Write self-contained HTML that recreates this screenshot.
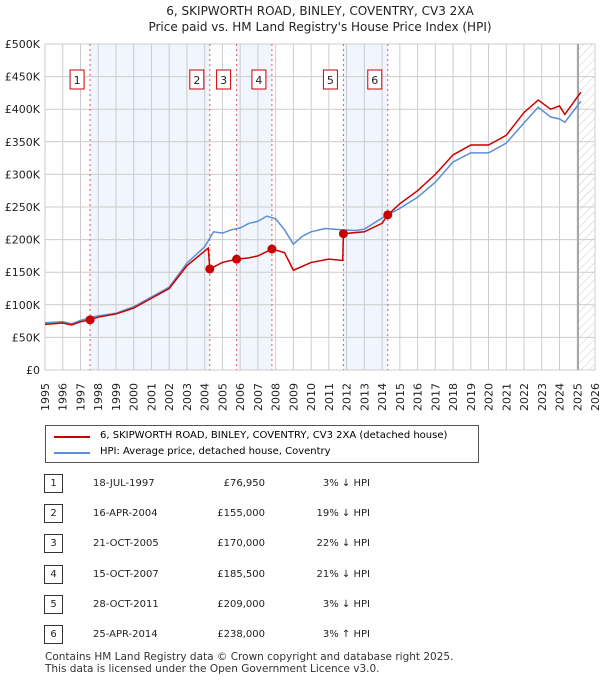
<!DOCTYPE html>
<html><head><meta charset="utf-8"><style>
body{margin:0;background:#fff;font-family:"Liberation Sans","DejaVu Sans",sans-serif;}
#wrap{position:relative;width:600px;height:680px;}
svg text{font-family:"DejaVu Sans","Liberation Sans",sans-serif;}
.row{position:absolute;left:0;width:600px;font-size:10px;color:#222;font-family:"DejaVu Sans",sans-serif;}
.row span{position:absolute;top:0;white-space:nowrap;}
.num{left:44px;width:17px;height:17px;border:1px solid #333;text-align:center;line-height:17px;top:-4px!important;}
</style></head><body><div id="wrap">
<svg id="chart" width="600" height="420" style="position:absolute;left:0;top:0">
<text x="320" y="15" text-anchor="middle" font-size="12" fill="#222">6, SKIPWORTH ROAD, BINLEY, COVENTRY, CV3 2XA</text>
<text x="320" y="31" text-anchor="middle" font-size="12" fill="#222">Price paid vs. HM Land Registry's House Price Index (HPI)</text>
<defs><pattern id="hatch" width="6" height="6" patternUnits="userSpaceOnUse" patternTransform="rotate(45)"><line x1="0" y1="0" x2="0" y2="6" stroke="#ccc" stroke-width="1"/></pattern></defs>
<g id="g"></g>
</svg>
<div style="position:absolute;left:45px;top:425px;width:432px;height:36px;border:1px solid #555;">
<div style="position:absolute;left:8px;top:10px;width:36px;height:2px;background:#c00"></div>
<div style="position:absolute;left:54px;top:4px;font-size:10px;white-space:nowrap;font-family:'DejaVu Sans',sans-serif">6, SKIPWORTH ROAD, BINLEY, COVENTRY, CV3 2XA (detached house)</div>
<div style="position:absolute;left:8px;top:26px;width:36px;height:2px;background:#5b8fd4"></div>
<div style="position:absolute;left:54px;top:20px;font-size:10px;white-space:nowrap;font-family:'DejaVu Sans',sans-serif">HPI: Average price, detached house, Coventry</div>
</div>
<div id="table"></div>
<div style="position:absolute;left:45px;top:651px;font-size:10.5px;line-height:12px;color:#333;font-family:'DejaVu Sans',sans-serif">Contains HM Land Registry data © Crown copyright and database right 2025.<br>This data is licensed under the Open Government Licence v3.0.</div>
</div>
<script>
const hpiYears=[1995,1996,1996.5,1997,1997.5,1998,1999,2000,2001,2002,2003,2004,2004.5,2005,2005.5,2006,2006.5,2007,2007.5,2008,2008.5,2009,2009.5,2010,2010.8,2011.8,2012.5,2013,2014,2015,2016,2017,2018,2019,2020,2021,2022,2022.8,2023.5,2024,2024.3,2025.2];
const hpiValues=[72.5,74,71,76,80,83,87,97,112,127,164,189,212,210,215,218,225,228,236,232,215,193,205,212,217,215,214,216,233,248,265,288,319,333,333,348,379,403,388,385,380,412];
const ppYears=[1995,1996,1996.5,1997,1997.54,1998,1999,2000,2001,2002,2003,2004.2,2004.29,2005,2005.8,2006.5,2007,2007.79,2008.5,2009,2010,2011,2011.78,2011.82,2013,2014,2014.32,2015,2016,2017,2018,2019,2020,2021,2022,2022.8,2023.5,2024,2024.3,2025.2];
const ppValues=[70,72,69,74,76.95,81,86,95,110,125,160,187,155,165,170,172,175,185.5,180,153,165,170,168,209,212,225,238,255,275,300,330,345,345,360,395,414,400,405,392,426];
const saleYears=[1997.54,2004.29,2005.8,2007.79,2011.82,2014.32];
const saleValues=[76.95,155,170,185.5,209,238];
const saleLabels=["1","2","3","4","5","6"];
const saleDates=["18-JUL-1997","16-APR-2004","21-OCT-2005","15-OCT-2007","28-OCT-2011","25-APR-2014"];
const salePrices=["£76,950","£155,000","£170,000","£185,500","£209,000","£238,000"];
const saleHpi=["3% ↓ HPI","19% ↓ HPI","22% ↓ HPI","21% ↓ HPI","3% ↓ HPI","3% ↑ HPI"];
const yTicks=[0,50,100,150,200,250,300,350,400,450,500];
const yTickLabels=["£0","£50K","£100K","£150K","£200K","£250K","£300K","£350K","£400K","£450K","£500K"];
const xTicks=[1995,1996,1997,1998,1999,2000,2001,2002,2003,2004,2005,2006,2007,2008,2009,2010,2011,2012,2013,2014,2015,2016,2017,2018,2019,2020,2021,2022,2023,2024,2025,2026];
const L=45,R=595,T=44,B=370;
const x=v=>L+(v-1995)/(2026-1995)*(R-L);
const y=v=>B-v/500*(B-T);
const g=document.getElementById('g');
const NS='http://www.w3.org/2000/svg';
function el(t,a){const e=document.createElementNS(NS,t);for(const k in a)e.setAttribute(k,a[k]);g.appendChild(e);return e;}
[[0,1],[2,3],[4,5]].forEach(p=>{const r=el('rect',{x:x(saleYears[p[0]]),y:T,width:x(saleYears[p[1]])-x(saleYears[p[0]]),height:B-T,fill:'#eef3fc',opacity:0.8});

});
const h=el('rect',{x:x(2025.05),y:T,width:R-x(2025.05),height:B-T,fill:'url(#hatch)'});


xTicks.forEach((t,i)=>{const l=el('line',{x1:x(t),x2:x(t),y1:T,y2:B,stroke:'#ccc'});


const tx=el('text',{x:x(t)+4,y:383,'text-anchor':'end','font-size':11,fill:'#222',transform:'rotate(-90 '+(x(t)+4)+' 383)'});tx.textContent=t;

});
yTicks.forEach((t,i)=>{const l=el('line',{x1:L,x2:R,y1:y(t),y2:y(t),stroke:'#ccc'});


const tx=el('text',{x:40,y:y(t)+4,'text-anchor':'end','font-size':11,fill:'#222'});tx.textContent=yTickLabels[i];

});
const fl=el('line',{x1:x(2025.05),x2:x(2025.05),y1:T,y2:B,stroke:'#999','stroke-width':1.5});


saleYears.forEach((s,i)=>{const l=el('line',{x1:x(s),x2:x(s),y1:T,y2:B,stroke:'#e05a5a','stroke-dasharray':'2,3'});


const r=el('rect',{x:x(s)-20,y:70,width:14,height:19,fill:'#fff',stroke:'#c00'});


const t=el('text',{x:x(s)-13,y:84,'text-anchor':'middle','font-size':11,fill:'#222'});t.textContent=saleLabels[i];

});
const hp=el('polyline',{points:hpiYears.map((v,i)=>x(v)+','+y(hpiValues[i])).join(' '),fill:'none',stroke:'#5b8fd4','stroke-width':1.5});


const pp=el('polyline',{points:ppYears.map((v,i)=>x(v)+','+y(ppValues[i])).join(' '),fill:'none',stroke:'#c00','stroke-width':1.5});


saleYears.forEach((s,i)=>{const c=el('circle',{cx:x(s),cy:y(saleValues[i]),r:4.5,fill:'#c00'});

});
const tb=document.getElementById('table');
saleLabels.forEach((lb,i)=>{const d=document.createElement('div');d.className='row';d.style.top=(478+i*30.2)+'px';


d.innerHTML='<span class="num">'+lb+'</span><span style="left:93px">'+saleDates[i]+'</span><span style="left:195px;width:70px;text-align:right">'+salePrices[i]+'</span><span style="left:290px;width:80px;text-align:right">'+saleHpi[i]+'</span>';tb.appendChild(d);});
</script>
</body></html>
